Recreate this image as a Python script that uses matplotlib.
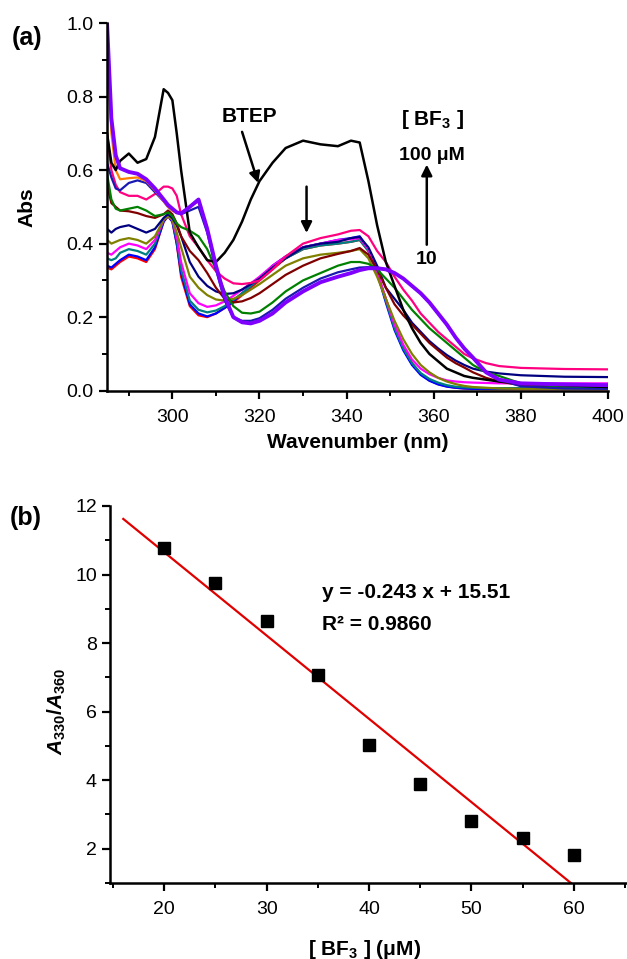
import matplotlib
matplotlib.use("Agg")
import matplotlib.pyplot as plt
from matplotlib.ticker import MultipleLocator

plt.rcParams['font.family'] = ['Liberation Sans', 'DejaVu Sans', 'Noto Sans CJK SC']
plt.rcParams['mathtext.fontset'] = 'custom'
plt.rcParams['mathtext.rm'] = 'Liberation Sans:bold'
plt.rcParams['mathtext.bf'] = 'Liberation Sans:bold'
plt.rcParams['mathtext.it'] = 'Liberation Sans:italic:bold'

# ---- panel (a): UV-vis spectra ----
wl = [285, 286, 287, 288, 290, 292, 294, 296, 298, 299, 300, 301, 302, 304, 306, 308,
      310, 312, 314, 316, 318, 320, 323, 326, 330, 334, 338, 341, 343, 345, 347, 349,
      351, 353, 355, 357, 359, 361, 363, 365, 367, 369, 372, 375, 380, 390, 400]

btep = [0.70, 0.62, 0.60, 0.625, 0.645, 0.62, 0.63, 0.69, 0.82, 0.81, 0.79, 0.70, 0.60,
        0.43, 0.39, 0.355, 0.35, 0.375, 0.41, 0.46, 0.52, 0.57, 0.62, 0.66, 0.68, 0.67, 0.665,
        0.68, 0.675, 0.57, 0.45, 0.35, 0.285, 0.22, 0.17, 0.13, 0.10,
        0.08, 0.06, 0.05, 0.04, 0.035, 0.03, 0.025, 0.02, 0.015, 0.01]

red = [0.335, 0.33, 0.34, 0.35, 0.365, 0.36, 0.35, 0.385, 0.46, 0.475, 0.46, 0.40, 0.31,
       0.23, 0.205, 0.20, 0.21, 0.225, 0.24, 0.26, 0.28, 0.30, 0.33, 0.36, 0.385, 0.395, 0.40,
       0.405, 0.41, 0.38, 0.32, 0.25, 0.18, 0.12, 0.075, 0.045, 0.028,
       0.018, 0.012, 0.008, 0.006, 0.005, 0.004, 0.004, 0.004, 0.004, 0.004]

blue_a = [0.34, 0.335, 0.345, 0.355, 0.37, 0.365, 0.355, 0.39, 0.46, 0.475, 0.46, 0.40, 0.32,
          0.235, 0.21, 0.202, 0.21, 0.225, 0.243, 0.265, 0.285, 0.305, 0.34, 0.365, 0.39, 0.40, 0.41,
          0.415, 0.42, 0.385, 0.32, 0.24, 0.165, 0.11, 0.07, 0.043, 0.027,
          0.017, 0.011, 0.008, 0.006, 0.005, 0.005, 0.005, 0.005, 0.005, 0.005]

teal = [0.36, 0.355, 0.36, 0.375, 0.385, 0.38, 0.37, 0.40, 0.465, 0.477, 0.465, 0.41, 0.33,
        0.245, 0.22, 0.213, 0.218, 0.23, 0.247, 0.265, 0.285, 0.305, 0.335, 0.36, 0.385, 0.395, 0.40,
        0.405, 0.41, 0.38, 0.32, 0.245, 0.17, 0.115, 0.075, 0.048, 0.032,
        0.022, 0.015, 0.011, 0.009, 0.008, 0.007, 0.007, 0.007, 0.007, 0.007]

magenta = [0.375, 0.37, 0.38, 0.39, 0.40, 0.395, 0.385, 0.41, 0.465, 0.475, 0.465, 0.42, 0.35,
           0.265, 0.238, 0.228, 0.232, 0.243, 0.258, 0.275, 0.292, 0.31, 0.34, 0.365, 0.39, 0.40, 0.41,
           0.412, 0.415, 0.385, 0.325, 0.25, 0.18, 0.125, 0.085, 0.06, 0.045,
           0.035, 0.028, 0.025, 0.023, 0.022, 0.021, 0.02, 0.02, 0.02, 0.02]

olive = [0.41, 0.40, 0.405, 0.41, 0.415, 0.41, 0.40, 0.42, 0.465, 0.475, 0.465, 0.43, 0.39,
         0.31, 0.28, 0.26, 0.248, 0.245, 0.25, 0.26, 0.275, 0.29, 0.315, 0.34, 0.36, 0.37, 0.375,
         0.38, 0.385, 0.36, 0.31, 0.25, 0.19, 0.14, 0.10, 0.07, 0.05,
         0.035, 0.025, 0.018, 0.013, 0.01, 0.008, 0.006, 0.005, 0.005, 0.005]

navy = [0.44, 0.43, 0.44, 0.445, 0.45, 0.44, 0.43, 0.44, 0.47, 0.48, 0.47, 0.45, 0.42,
        0.35, 0.31, 0.285, 0.27, 0.263, 0.265, 0.275, 0.29, 0.305, 0.335, 0.36, 0.39, 0.40, 0.405,
        0.415, 0.418, 0.39, 0.34, 0.28, 0.25, 0.22, 0.185, 0.16, 0.135,
        0.115, 0.097, 0.082, 0.07, 0.06, 0.052, 0.047, 0.042, 0.038, 0.037]

maroon = [0.56, 0.51, 0.50, 0.49, 0.488, 0.483, 0.475, 0.47, 0.48, 0.49, 0.48, 0.455, 0.42,
          0.38, 0.355, 0.32, 0.28, 0.25, 0.24, 0.243, 0.252, 0.265, 0.29, 0.315, 0.34, 0.36, 0.372,
          0.38, 0.388, 0.37, 0.33, 0.28, 0.235, 0.205, 0.18, 0.155, 0.13,
          0.11, 0.09, 0.075, 0.063, 0.05, 0.035, 0.025, 0.015, 0.01, 0.01]

pink = [0.70, 0.60, 0.56, 0.54, 0.53, 0.53, 0.52, 0.535, 0.555, 0.555, 0.55, 0.53, 0.48,
        0.42, 0.39, 0.355, 0.325, 0.305, 0.292, 0.29, 0.293, 0.30, 0.33, 0.365, 0.40, 0.415, 0.425,
        0.435, 0.437, 0.42, 0.38, 0.35, 0.31, 0.275, 0.245, 0.21, 0.185,
        0.16, 0.14, 0.12, 0.10, 0.088, 0.075, 0.067, 0.062, 0.059, 0.058]

green = [0.59, 0.52, 0.495, 0.49, 0.495, 0.50, 0.49, 0.475, 0.48, 0.485, 0.475, 0.455, 0.445,
         0.435, 0.42, 0.385, 0.33, 0.27, 0.23, 0.212, 0.21, 0.215, 0.24, 0.27, 0.30, 0.32, 0.34,
         0.35, 0.35, 0.345, 0.33, 0.305, 0.28, 0.25, 0.22, 0.195, 0.17,
         0.15, 0.13, 0.11, 0.09, 0.07, 0.05, 0.04, 0.02, 0.01, 0.008]

blue_b = [0.62, 0.58, 0.55, 0.545, 0.565, 0.572, 0.565, 0.54, 0.515, 0.50, 0.49, 0.485, 0.48,
          0.49, 0.50, 0.43, 0.33, 0.245, 0.20, 0.19, 0.19, 0.197, 0.22, 0.25, 0.28, 0.305, 0.322,
          0.33, 0.335, 0.336, 0.335, 0.33, 0.32, 0.305, 0.285, 0.265, 0.24,
          0.21, 0.18, 0.145, 0.115, 0.09, 0.05, 0.03, 0.012, 0.006, 0.005]

orange = [0.95, 0.70, 0.60, 0.575, 0.578, 0.58, 0.57, 0.545, 0.515, 0.50, 0.49, 0.483, 0.483,
          0.50, 0.515, 0.44, 0.34, 0.255, 0.20, 0.186, 0.183, 0.19, 0.21, 0.24, 0.27, 0.295, 0.31,
          0.32, 0.328, 0.333, 0.333, 0.33, 0.32, 0.305, 0.285, 0.265, 0.24,
          0.21, 0.18, 0.145, 0.115, 0.09, 0.05, 0.03, 0.02, 0.017, 0.015]

purple = [1.0, 0.74, 0.64, 0.605, 0.595, 0.59, 0.575, 0.55, 0.52, 0.505, 0.495, 0.485, 0.482,
          0.50, 0.52, 0.44, 0.34, 0.255, 0.20, 0.186, 0.183, 0.19, 0.21, 0.24, 0.27, 0.295, 0.31,
          0.32, 0.328, 0.333, 0.333, 0.33, 0.32, 0.305, 0.285, 0.265, 0.24,
          0.21, 0.18, 0.145, 0.115, 0.09, 0.05, 0.03, 0.02, 0.017, 0.015]

spectra = [(red, '#FF0000'), (blue_a, '#0000FF'), (teal, '#008080'), (magenta, '#FF00FF'),
           (olive, '#808000'), (navy, '#000080'), (maroon, '#800000'), (pink, '#FF0080'),
           (green, '#008000'), (blue_b, '#1A1AB0'), (orange, '#FF8000')]

# ---- panel (b): ratio vs concentration ----
conc = [20, 25, 30, 35, 40, 45, 50, 55, 60]
ratio = [10.76, 9.76, 8.64, 7.06, 5.02, 3.88, 2.81, 2.30, 1.83]
slope, intercept = -0.243, 15.51
fit_x = [16.0, (1.0 - intercept) / slope]

fig = plt.figure(figsize=(6.27, 9.59), dpi=100)

ax1 = fig.add_axes([0.1707, 0.5926, 0.799, 0.3834])
for ys, c in spectra:
    ax1.plot(wl, ys, color=c, lw=1.6)
ax1.plot(wl, btep, color='black', lw=1.8)
ax1.plot(wl, purple, color='#8000FF', lw=2.8)

ax1.set_xlim(285, 400)
ax1.set_ylim(0, 1.0)
ax1.xaxis.set_major_locator(MultipleLocator(20))
ax1.xaxis.set_minor_locator(MultipleLocator(10))
ax1.yaxis.set_major_locator(MultipleLocator(0.2))
ax1.yaxis.set_minor_locator(MultipleLocator(0.1))
ax1.yaxis.set_major_formatter(plt.FormatStrFormatter('%.1f'))
ax1.set_xlabel('Wavenumber (nm)', fontsize=15, fontweight='bold')
ax1.set_ylabel('Abs', fontsize=15, fontweight='bold')
ax1.xaxis.set_label_coords(0.5, -0.115)
ax1.yaxis.set_label_coords(-0.14, 0.5)

ax1.text(317.7, 0.745, 'BTEP', fontsize=15, fontweight='bold', ha='center', va='center')
arw = dict(arrowstyle='-|>', color='black', lw=1.8, mutation_scale=16, shrinkA=0, shrinkB=0)
ax1.annotate('', xy=(319.7, 0.565), xytext=(316.0, 0.704), arrowprops=arw)
ax1.annotate('', xy=(330.8, 0.429), xytext=(330.8, 0.555), arrowprops=arw)
ax1.annotate('', xy=(358.4, 0.615), xytext=(358.4, 0.397), arrowprops=arw)
ax1.text(359.8, 0.737, '[ BF$_3$ ]', fontsize=15, fontweight='bold', ha='center', va='center')
ax1.text(359.6, 0.641, '100 μM', fontsize=14, fontweight='bold', ha='center', va='center')
ax1.text(358.4, 0.356, '10', fontsize=14, fontweight='bold', ha='center', va='center')

ax2 = fig.add_axes([0.1754, 0.0793, 0.8246, 0.3931])
ax2.plot(fit_x, [slope * x + intercept for x in fit_x], color='#E00000', lw=1.6)
ax2.plot(conc, ratio, 's', color='black', ms=8, clip_on=False)
ax2.set_xlim(14.7, 65.2)
ax2.set_ylim(1, 12)
ax2.xaxis.set_major_locator(MultipleLocator(10))
ax2.xaxis.set_minor_locator(MultipleLocator(5))
ax2.yaxis.set_major_locator(MultipleLocator(2))
ax2.yaxis.set_minor_locator(MultipleLocator(1))
ax2.set_xticks([20, 30, 40, 50, 60])
ax2.set_xlabel('[ BF$_3$ ] (μM)', fontsize=15, fontweight='bold')
ax2.set_ylabel(r'$A_{330}/A_{360}$', fontsize=15)
ax2.xaxis.set_label_coords(0.493, -0.145)
ax2.yaxis.set_label_coords(-0.081, 0.454)
ax2.text(35.4, 9.48, 'y = -0.243 x + 15.51', fontsize=15, fontweight='bold', va='center')
ax2.text(35.4, 8.55, 'R² = 0.9860', fontsize=15, fontweight='bold', va='center')

for ax in (ax1, ax2):
    ax.spines['top'].set_visible(False)
    ax.spines['right'].set_visible(False)
    ax.spines['left'].set_linewidth(1.8)
    ax.spines['bottom'].set_linewidth(1.8)
    ax.tick_params(which='major', direction='out', length=6, width=1.6, labelsize=14)
    ax.tick_params(which='minor', direction='out', length=3.5, width=1.4)
    ax.tick_params(axis='x', pad=7)

fig.text(0.019, 0.960, '(a)', fontsize=18, fontweight='bold', va='center')
fig.text(0.016, 0.460, '(b)', fontsize=18, fontweight='bold', va='center')

fig.savefig('out.png', dpi=100)
